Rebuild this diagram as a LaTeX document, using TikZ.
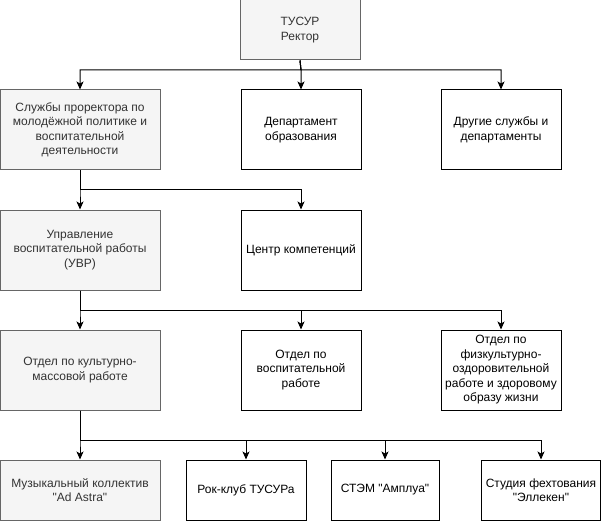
\documentclass[tikz,border=0pt]{standalone}
\usepackage{fontspec}
\setmainfont{Liberation Sans}[Ligatures=TeXOff]
\usetikzlibrary{arrows.meta}
\definecolor{grayfill}{HTML}{F5F5F5}
\definecolor{graystroke}{HTML}{666666}
\definecolor{graytext}{HTML}{333333}
\begin{document}
\begin{tikzpicture}[x=1pt,y=-1pt,
  box/.style={draw=black,fill=white,line width=1pt,inner sep=0pt,align=center,
    font=\fontsize{12}{14.5}\selectfont,minimum width=120pt,minimum height=80pt},
  graybox/.style={box,draw=graystroke,fill=grayfill,text=graytext},
  wide/.style={minimum width=160pt},
  low/.style={minimum height=60pt},
  arr/.style={line width=1pt,-{Stealth[length=8pt,width=7pt,inset=2pt]}}]
\useasboundingbox (0,0) rectangle (601,521);
\node[graybox,low] (rector) at (300,30) {ТУСУР\\Ректор};
\node[graybox,wide] (s1) at (80,130) {Службы проректора по\\молодёжной политике и\\воспитательной\\деятельности};
\node[box] (dep) at (301,130) {Департамент\\образования};
\node[box] (other) at (501,130) {Другие службы и\\департаменты};
\node[graybox,wide] (uvr) at (80,250) {Управление\\воспитательной работы\\(УВР)};
\node[box] (cc) at (301,250) {Центр компетенций};
\node[graybox,wide] (okm) at (80,370) {Отдел по культурно-\\массовой работе};
\node[box] (ovr) at (301,370) {Отдел по\\воспитательной\\работе};
\node[box] (ofz) at (501,370) {Отдел по\\физкультурно-\\оздоровительной\\работе и здоровому\\образу жизни};
\node[graybox,wide,low] (mus) at (80,490) {Музыкальный коллектив\\"Ad Astra"};
\node[box,low] (rock) at (246,490) {Рок-клуб ТУСУРа};
\node[box,low,minimum width=108pt] (stem) at (385,490) {СТЭМ "Амплуа"};
\node[box,low,minimum width=119pt] (fen) at (541,490) {Студия фехтования\\"Эллекен"};
\coordinate (j1) at (301,70);
\coordinate (j2) at (80,190);
\coordinate (j3) at (80,310);
\coordinate (j4) at (80,440);
\draw[arr] (rector.south) -- (j1) -| (s1.north);
\draw[arr] (rector.south) -- (j1) -- (dep.north);
\draw[arr] (rector.south) -- (j1) -| (other.north);
\draw[arr] (s1.south) -- (j2) -- (uvr.north);
\draw[arr] (s1.south) -- (j2) -| (cc.north);
\draw[arr] (uvr.south) -- (j3) -- (okm.north);
\draw[arr] (uvr.south) -- (j3) -| (ovr.north);
\draw[arr] (uvr.south) -- (j3) -| (ofz.north);
\draw[arr] (okm.south) -- (j4) -- (mus.north);
\draw[arr] (okm.south) -- (j4) -| (rock.north);
\draw[arr] (okm.south) -- (j4) -| (stem.north);
\draw[arr] (okm.south) -- (j4) -| (fen.north);
\end{tikzpicture}
\end{document}
